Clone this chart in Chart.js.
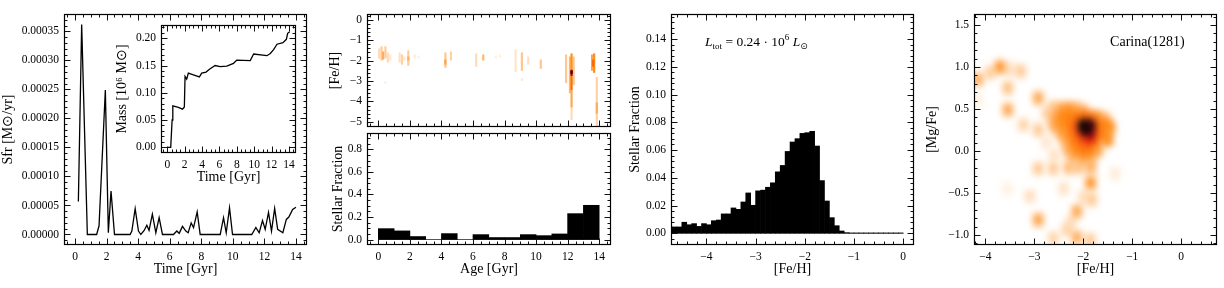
<!DOCTYPE html>
<html>
<head>
<meta charset="utf-8">
<script src="https://cdn.jsdelivr.net/npm/chart.js@4.4.1/dist/chart.umd.min.js"></script>
<style>
  html, body { margin: 0; padding: 0; background: #fff; }
  body { width: 1224px; height: 288px; position: relative; overflow: hidden; }
  canvas { position: absolute; }
</style>
</head>
<body>
<canvas id="sfr"></canvas>
<canvas id="mass"></canvas>
<canvas id="amr"></canvas>
<canvas id="ageHist"></canvas>
<canvas id="mdf"></canvas>
<canvas id="mgfe"></canvas>
<script>
// --- panel 1: star formation rate vs time
const sfrTime = [0.21,0.42,0.78,1.37,1.52,1.92,2.11,2.28,2.50,3.49,3.60,3.81,4.02,4.17,4.38,4.55,4.69,4.90,5.12,5.33,
  5.54,6.24,6.45,6.60,6.81,7.02,7.17,7.36,7.51,7.74,7.93,9.20,9.41,9.58,9.79,9.98,11.20,11.46,11.67,11.88,
  12.05,12.26,12.45,12.65,12.84,13.17,13.39,13.55,13.79,14.00];
const sfrRate = [5.7e-5,3.62e-4,0,0,1.5e-5,2.49e-4,3e-6,7.5e-5,0,0,6e-6,4.45e-5,6e-6,0,7e-6,1.6e-5,7e-6,3.5e-5,3e-6,2.9e-5,
  0,0,6e-6,2e-6,1.4e-5,6e-6,3e-6,2.0e-5,1.2e-5,3.9e-5,0,0,2.9e-5,3e-6,4.6e-5,0,0,1.2e-5,3e-6,2.4e-5,
  9e-6,3.8e-5,6e-6,4.5e-5,9e-6,3e-6,2.6e-5,3.0e-5,4.3e-5,4.7e-5];

// inset: cumulative mass
const massTime = [0.00,0.39,0.55,0.63,1.27,1.75,1.96,2.04,2.23,2.42,3.00,3.69,3.96,4.46,4.85,5.50,6.08,6.85,7.62,8.00,
  9.55,9.94,11.47,11.86,12.24,12.63,13.32,13.71,13.86,14.09];
const massVal = [0.000,0.000,0.050,0.076,0.073,0.070,0.074,0.130,0.125,0.136,0.133,0.129,0.136,0.138,0.143,0.150,0.148,0.149,0.154,0.160,
  0.159,0.171,0.168,0.172,0.179,0.189,0.192,0.198,0.209,0.212];

// --- panel 2: age-metallicity map (age, [Fe/H] top, [Fe/H] bottom, density) and age histogram
const amrCells = [
  [0.05,-1.4,-1.9,0.07],[0.20,-1.3,-2.0,0.10],[0.30,-1.55,-1.95,0.16],[0.45,-1.3,-1.9,0.10],[0.60,-1.6,-2.1,0.07],
  [0.75,-1.7,-2.0,0.05],[1.35,-1.6,-2.1,0.06],[1.50,-1.7,-2.2,0.09],[1.65,-1.8,-2.0,0.05],[1.90,-1.5,-2.25,0.10],
  [1.90,-1.8,-2.0,0.16],[2.30,-1.7,-1.9,0.04],[2.55,-1.75,-1.9,0.03],[4.25,-1.6,-2.35,0.11],[4.25,-1.95,-2.2,0.18],
  [4.60,-1.55,-2.0,0.09],[6.20,-1.65,-2.3,0.07],[6.65,-1.7,-2.0,0.14],[7.45,-1.75,-1.9,0.03],[7.70,-1.7,-1.85,0.03],
  [8.70,-1.45,-2.55,0.05],[9.10,-1.6,-2.5,0.11],[9.50,-1.8,-2.2,0.06],[10.30,-1.95,-2.4,0.11],[11.90,-1.7,-3.1,0.11],
  [12.15,-1.8,-3.6,0.14],[12.38,-1.8,-3.2,0.11],
  [12.25,-1.65,-2.5,0.22],[12.25,-2.75,-3.45,0.28],[12.25,-3.45,-4.3,0.17],[12.25,-4.3,-4.9,0.07],[12.25,-2.45,-2.75,0.55],
  [12.25,-2.5,-2.65,0.85],[13.55,-1.7,-2.5,0.18],[13.68,-1.65,-2.6,0.22],[13.62,-1.95,-2.3,0.30],
  [13.85,-2.8,-5.25,0.09],[13.85,-4.05,-4.6,0.16],[0.45,-3.0,-3.15,0.03],[9.10,-2.85,-3.0,0.04]
];
const ageCenters = [0.5,1.5,2.5,3.5,4.5,5.5,6.5,7.5,8.5,9.5,10.5,11.5,12.5,13.5];
const ageFrac = [0.097,0.077,0.027,0,0.053,0,0.044,0.018,0.018,0.044,0.035,0.050,0.230,0.304];

// --- panel 3: metallicity distribution
const fehCenters = [-4.75,-4.65,-4.55,-4.45,-4.35,-4.25,-4.15,-4.05,-3.95,-3.85,-3.75,-3.65,-3.55,-3.45,-3.35,-3.25,
  -3.15,-3.05,-2.95,-2.85,-2.75,-2.65,-2.55,-2.45,-2.35,-2.25,-2.15,-2.05,-1.95,-1.85,-1.75,-1.65,-1.55,-1.45,
  -1.35,-1.25,-1.15,-1.05,-0.95,-0.85,-0.75,-0.65,-0.55,-0.45,-0.35,-0.25,-0.15,-0.05];
const fehFrac = [0.0046,0.0046,0.0046,0.0080,0.0062,0.0070,0.0050,0.0070,0.0062,0.0091,0.0096,0.0140,0.0140,0.0183,
  0.0173,0.0226,0.0291,0.0202,0.0306,0.0311,0.0332,0.0364,0.0443,0.0489,0.0590,0.0658,0.0682,0.0720,0.0725,0.0735,
  0.0629,0.0380,0.0233,0.0113,0.0055,0.0017,0.0005,0.0003,0.0003,0.0003,0.0003,0.0003,0.0003,0.0003,0.0003,0.0003,
  0.0003,0.0003];
const lumText = ['L', 'tot', ' = 0.24 \u00b7 10', '6', ' L', '\u2299'];

// --- panel 4: [Mg/Fe] vs [Fe/H] density ([Fe/H], [Mg/Fe], density)
const mgfeBlobs = [
  // outskirts
  [-4.15,0.85,0.17],[-3.90,0.93,0.10],[-3.70,1.00,0.22],[-3.50,0.97,0.07],[-3.28,0.95,0.11],[-3.54,0.75,0.13],
  [-3.54,0.49,0.18],[-3.22,0.31,0.09],[-2.92,0.63,0.18],[-2.92,0.25,0.11],[-2.75,0.45,0.08],[-2.62,0.52,0.11],
  [-2.92,-0.21,0.11],[-2.61,-0.21,0.11],[-2.92,-0.82,0.19],[-3.09,-0.54,0.07],[-2.13,-0.72,0.18],[-1.83,-0.58,0.11],
  [-2.34,-0.94,0.09],[-2.13,-1.03,0.17],[-2.61,-1.04,0.09],[-1.86,-1.06,0.11],[-2.40,-0.45,0.06],[-1.35,-0.27,0.04],
  [-3.55,-0.45,0.03],[-4.15,0.60,0.03],[-2.00,-0.55,0.07],[-2.25,-0.85,0.07],[-2.75,0.10,0.05],[-2.60,-0.05,0.06],
  // main clump
  [-2.45,0.50,0.19],[-2.30,0.50,0.22],[-2.15,0.50,0.17],[-2.00,0.48,0.14],
  [-2.60,0.40,0.16],[-2.45,0.40,0.24],[-2.30,0.40,0.26],[-2.15,0.40,0.26],[-2.00,0.40,0.30],[-1.85,0.40,0.28],
  [-1.70,0.40,0.21],[-1.55,0.38,0.14],
  [-2.60,0.30,0.17],[-2.45,0.30,0.22],[-2.30,0.30,0.24],[-2.15,0.30,0.34],[-1.70,0.30,0.28],[-1.55,0.30,0.24],
  [-1.45,0.28,0.20],
  [-2.45,0.20,0.17],[-2.30,0.20,0.22],[-2.15,0.20,0.30],[-2.00,0.20,0.42],[-1.85,0.18,0.48],[-1.70,0.20,0.28],
  [-1.55,0.18,0.22],
  [-2.35,0.10,0.15],[-2.20,0.10,0.24],[-2.05,0.10,0.30],[-1.90,0.10,0.34],[-1.75,0.10,0.24],[-1.50,0.13,0.22],
  [-2.30,0.00,0.16],[-2.15,0.00,0.22],[-2.00,0.00,0.26],[-1.85,0.00,0.24],[-1.70,0.00,0.16],
  [-2.20,-0.10,0.13],[-2.00,-0.10,0.16],[-1.85,-0.10,0.14],
  [-2.30,-0.20,0.14],[-2.10,-0.20,0.12],[-1.85,-0.20,0.16],[-1.85,-0.38,0.22],
  [-1.85,0.30,0.78],[-2.00,0.30,0.97],[-1.92,0.26,0.88]
];
const carinaLabel = 'Carina(1281)';

Chart.defaults.font.family = 'Liberation Serif';
Chart.defaults.color = '#000';
Chart.defaults.animation = false;
Chart.defaults.events = [];
Chart.defaults.plugins.legend.display = false;
Chart.defaults.plugins.tooltip.enabled = false;

const TICK_FONT = { family: 'Liberation Serif', size: 11.5 };
const TITLE_FONT = { family: 'Liberation Serif', size: 14 };

// gist_heat reversed
function heat(v) {
  const x = 1 - v;
  const r = Math.min(1, 1.5 * x), g = Math.max(0, Math.min(1, 2 * x - 1)), b = Math.max(0, Math.min(1, 4 * x - 3));
  return `rgb(${Math.round(r * 255)},${Math.round(g * 255)},${Math.round(b * 255)})`;
}

function fmt(d) {
  return v => { if (Math.abs(v) < 1e-12) v = 0; return v.toFixed(d).replace('-', '\u2212'); };
}

function axis(min, max, step, dec, title, fit, labels) {
  return {
    type: 'linear', min, max, offset: false,
    grid: { display: false, drawTicks: false }, border: { display: false },
    ticks: { stepSize: step, includeBounds: false, autoSkip: false, maxRotation: 0, font: TICK_FONT,
             padding: 5, callback: fmt(dec), display: labels !== false },
    title: { display: !!title, text: title, font: TITLE_FONT, padding: 0 },
    afterFit: fit
  };
}

function minors(min, max, step) {
  const out = [];
  for (let k = Math.ceil(min / step - 1e-9); k * step <= max + 1e-12; k++) out.push(k * step);
  return out;
}

// box with inward ticks on all four sides
function frame(xMinor, yMinor) {
  return {
    id: 'frame',
    afterDraw(chart) {
      const { ctx, chartArea: a, scales: { x, y } } = chart;
      const L = Math.round(a.left) + 0.5, R = Math.round(a.right) - 0.5;
      const T = Math.round(a.top) + 0.5, B = Math.round(a.bottom) - 0.5;
      ctx.save();
      ctx.strokeStyle = '#111';
      ctx.lineWidth = 1;
      ctx.beginPath();
      const xt = (v, len) => {
        const p = Math.round(x.getPixelForValue(v)) + 0.5;
        if (p < L || p > R) return;
        ctx.moveTo(p, B); ctx.lineTo(p, B - len); ctx.moveTo(p, T); ctx.lineTo(p, T + len);
      };
      const yt = (v, len) => {
        const p = Math.round(y.getPixelForValue(v)) + 0.5;
        if (p < T || p > B) return;
        ctx.moveTo(L, p); ctx.lineTo(L + len, p); ctx.moveTo(R, p); ctx.lineTo(R - len, p);
      };
      x.ticks.forEach(t => xt(t.value, 6));
      y.ticks.forEach(t => yt(t.value, 6));
      minors(x.min, x.max, xMinor).forEach(v => xt(v, 3));
      minors(y.min, y.max, yMinor).forEach(v => yt(v, 3));
      ctx.stroke();
      ctx.strokeStyle = '#000';
      ctx.lineWidth = 1.2;
      ctx.strokeRect(L, T, R - L, B - T);
      ctx.restore();
    }
  };
}

function make(id, box, pad, type, datasets, xs, ys, plugins) {
  const cv = document.getElementById(id);
  cv.width = box.r - box.l + pad.l + pad.r;
  cv.height = box.b - box.t + pad.t + pad.b;
  cv.style.left = (box.l - pad.l) + 'px';
  cv.style.top = (box.t - pad.t) + 'px';
  xs.afterFit = s => { s.height = pad.b; };
  ys.afterFit = s => { s.width = pad.l; };
  return new Chart(cv, {
    type,
    data: { datasets },
    options: {
      responsive: false,
      layout: { padding: { left: 0, top: pad.t, right: pad.r, bottom: 0 } },
      scales: { x: xs, y: ys }
    },
    plugins
  });
}

const whiteBg = {
  id: 'whiteBg',
  beforeDraw(chart) {
    const { ctx, chartArea: a } = chart;
    ctx.save(); ctx.fillStyle = '#fff'; ctx.fillRect(a.left, a.top, a.width, a.height); ctx.restore();
  }
};

// panel 1
make('sfr', { l: 64, t: 14, r: 307, b: 245 }, { l: 64, t: 14, r: 14, b: 33 }, 'scatter',
  [{ data: sfrTime.map((t, i) => ({ x: t, y: sfrRate[i] })), showLine: true, pointRadius: 0,
     borderColor: '#000', borderWidth: 1.3, tension: 0 }],
  axis(-0.7, 14.7, 2, 0, 'Time [Gyr]'),
  axis(-0.0000181, 0.00038, 0.00005, 5, 'Sfr [M\u2299/yr]'),
  [frame(0.5, 0.00001)]);

make('mass', { l: 161, t: 25, r: 296, b: 153 }, { l: 47, t: 14, r: 14, b: 33 }, 'scatter',
  [{ data: massTime.map((t, i) => ({ x: t, y: massVal[i] })), showLine: true, pointRadius: 0,
     borderColor: '#000', borderWidth: 1.3, tension: 0 }],
  axis(-0.73, 14.82, 2, 0, 'Time [Gyr]'),
  axis(-0.0105, 0.2243, 0.05, 2, 'Mass [10\u2076 M\u2299]'),
  [whiteBg, frame(0.5, 0.01)]);

// panel 2 top: age-metallicity map
const amrCellsPlugin = {
  id: 'amrCells',
  beforeDatasetsDraw(chart) {
    const { ctx, chartArea: a, scales: { x, y } } = chart;
    ctx.save();
    ctx.beginPath(); ctx.rect(a.left, a.top, a.width, a.height); ctx.clip();
    ctx.filter = 'blur(0.7px)';
    amrCells.slice().sort((p, q) => p[3] - q[3]).forEach(c => {
      const x0 = x.getPixelForValue(c[0] - 0.07), x1 = x.getPixelForValue(c[0] + 0.07);
      const y0 = y.getPixelForValue(c[1]), y1 = y.getPixelForValue(c[2]);
      ctx.fillStyle = heat(c[3]);
      ctx.fillRect(x0, y0, x1 - x0, y1 - y0);
    });
    ctx.restore();
  }
};
make('amr', { l: 367, t: 14, r: 611, b: 127 }, { l: 40, t: 14, r: 14, b: 14 }, 'scatter', [],
  axis(-0.72, 14.75, 2, 0, '', null, false),
  axis(-5.25, 0.28, 1, 0, '[Fe/H]'),
  [amrCellsPlugin, frame(0.5, 0.2)]);

make('ageHist', { l: 367, t: 133, r: 611, b: 245 }, { l: 37, t: 14, r: 14, b: 33 }, 'bar',
  [{ data: ageCenters.map((c, i) => ({ x: c, y: ageFrac[i] })), backgroundColor: '#000', borderWidth: 0,
     barPercentage: 1, categoryPercentage: 1 }],
  axis(-0.72, 14.75, 2, 0, 'Age [Gyr]'),
  axis(-0.048, 0.945, 0.2, 1, 'Stellar Fraction'),
  [frame(0.5, 0.05)]);

// panel 3
const lumPlugin = {
  id: 'lum',
  afterDraw(chart) {
    const { ctx, chartArea: a } = chart;
    let x = a.left + 0.14 * a.width;
    const y = a.top + 0.138 * a.height;
    const styles = [['italic 13.5px Liberation Serif', 0], ['9px Liberation Serif', 3], ['13.5px Liberation Serif', 0],
                    ['9px Liberation Serif', -6], ['italic 13.5px Liberation Serif', 0], ['9px DejaVu Sans', 3]];
    ctx.save();
    ctx.fillStyle = '#000';
    ctx.textBaseline = 'alphabetic';
    lumText.forEach((t, i) => {
      ctx.font = styles[i][0];
      ctx.fillText(t, x, y + styles[i][1]);
      x += ctx.measureText(t).width;
    });
    ctx.restore();
  }
};
make('mdf', { l: 671, t: 14, r: 914, b: 245 }, { l: 44, t: 14, r: 14, b: 33 }, 'bar',
  [{ data: fehCenters.map((c, i) => ({ x: c, y: fehFrac[i] })), backgroundColor: '#000', borderWidth: 0,
     barPercentage: 1, categoryPercentage: 1 }],
  axis(-4.72, 0.22, 1, 0, '[Fe/H]'),
  axis(-0.0084, 0.158, 0.02, 2, 'Stellar Fraction'),
  [lumPlugin, frame(0.2, 0.004)]);

// panel 4
const mgfePlugin = {
  id: 'mgfeMap',
  beforeDatasetsDraw(chart) {
    const { ctx, chartArea: a, scales: { x, y } } = chart;
    ctx.save();
    ctx.beginPath(); ctx.rect(a.left, a.top, a.width, a.height); ctx.clip();
    ctx.filter = 'blur(3.5px)';
    mgfeBlobs.slice().sort((p, q) => p[2] - q[2]).forEach(c => {
      const x0 = x.getPixelForValue(c[0] - 0.1), x1 = x.getPixelForValue(c[0] + 0.1);
      const y0 = y.getPixelForValue(c[1] + 0.075), y1 = y.getPixelForValue(c[1] - 0.075);
      ctx.fillStyle = heat(c[2]);
      ctx.fillRect(x0, y0, x1 - x0, y1 - y0);
    });
    ctx.restore();
  },
  afterDraw(chart) {
    const { ctx, chartArea: a } = chart;
    ctx.save();
    ctx.fillStyle = '#000';
    ctx.font = '14px Liberation Serif';
    ctx.fillText(carinaLabel, a.left + 0.56 * a.width, a.top + 0.138 * a.height);
    ctx.restore();
  }
};
make('mgfe', { l: 974, t: 14, r: 1217, b: 245 }, { l: 50, t: 14, r: 7, b: 33 }, 'scatter', [],
  axis(-4.23, 0.73, 1, 0, '[Fe/H]'),
  axis(-1.12, 1.63, 0.5, 1, '[Mg/Fe]'),
  [mgfePlugin, frame(0.2, 0.1)]);
</script>
</body>
</html>
